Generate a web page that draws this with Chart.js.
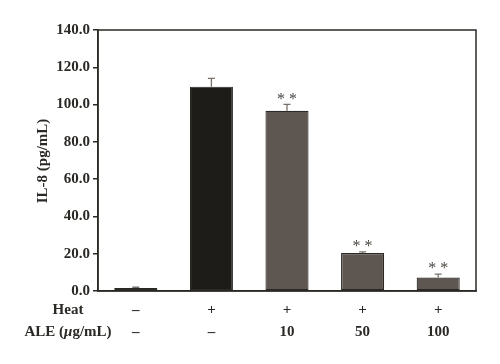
<!DOCTYPE html>
<html>
<head>
<meta charset="utf-8">
<script src="https://cdn.jsdelivr.net/npm/chart.js@4.4.1/dist/chart.umd.min.js"></script>
<style>
  html, body { margin: 0; padding: 0; background: #fff; }
  #wrap { width: 500px; height: 364px; }
</style>
</head>
<body>
<div id="wrap"><canvas id="myChart" width="500" height="364"></canvas></div>
<script>
// data
const heatRow = ['–', '+', '+', '+', '+'];
const aleRow = ['–', '–', '10', '50', '100'];
const il8Values = [1.6, 109.6, 96.7, 20.4, 7.2];
const il8Errors = [0.4, 4.5, 3.4, 0.6, 1.9];
const marks = ['', '', '**', '**', '**'];
const yTicks = [0, 20, 40, 60, 80, 100, 120, 140];

const serif = '"Liberation Serif", "DejaVu Serif", serif';
const ink = '#2b2925';

// error bars, asterisks, frame and row titles
const extras = {
  id: 'extras',
  afterDatasetsDraw(chart) {
    const ctx = chart.ctx;
    const y = chart.scales.y;
    const meta = chart.getDatasetMeta(0);
    const area = chart.chartArea;
    ctx.save();

    // box around the plot
    ctx.strokeStyle = ink;
    ctx.lineWidth = 1.5;
    ctx.strokeRect(area.left, area.top, area.right - area.left, area.bottom - area.top);

    meta.data.forEach((bar, i) => {
      const top = y.getPixelForValue(il8Values[i] + il8Errors[i]);
      ctx.strokeStyle = '#77716b';
      ctx.lineWidth = 1.3;
      ctx.beginPath();
      ctx.moveTo(bar.x, bar.y);
      ctx.lineTo(bar.x, top);
      ctx.moveTo(bar.x - 3.5, top);
      ctx.lineTo(bar.x + 3.5, top);
      ctx.stroke();

      if (marks[i]) {
        ctx.fillStyle = '#4a4540';
        ctx.font = '16px ' + serif;
        ctx.textAlign = 'center';
        ctx.textBaseline = 'middle';
        ctx.fillText('* *', bar.x, top - 5);
      }
    });

    // y title
    ctx.fillStyle = ink;
    ctx.font = 'bold 15px ' + serif;
    ctx.translate(43, 161);
    ctx.rotate(-Math.PI / 2);
    ctx.textAlign = 'center';
    ctx.textBaseline = 'middle';
    ctx.fillText('IL-8 (pg/mL)', 0, 0);
    ctx.restore();

    // row titles under the axis
    ctx.save();
    ctx.fillStyle = ink;
    ctx.textBaseline = 'middle';
    ctx.textAlign = 'center';
    ctx.font = 'bold 15px ' + serif;
    ctx.fillText('Heat', 68, 310);

    const parts = [['ALE (', 'bold 15px '], ['μ', 'italic bold 15px '], ['g/mL)', 'bold 15px ']];
    let total = 0;
    parts.forEach(p => { ctx.font = p[1] + serif; total += ctx.measureText(p[0]).width; });
    let x = 68 - total / 2;
    ctx.textAlign = 'left';
    parts.forEach(p => {
      ctx.font = p[1] + serif;
      ctx.fillText(p[0], x, 332);
      x += ctx.measureText(p[0]).width;
    });
    ctx.restore();
  }
};

const labels = heatRow.map((h, i) => [h, aleRow[i]]);

let myBarChart = new Chart(document.getElementById('myChart'), {
  type: 'bar',
  data: {
    labels: labels,
    datasets: [{
      data: il8Values,
      backgroundColor: ['#ffffff', '#1e1c18', '#5e5650', '#5e5650', '#5e5650'],
      borderColor: '#2b2925',
      borderWidth: 1.2,
      borderSkipped: false,
      barPercentage: 0.57,
      categoryPercentage: 1.0
    }]
  },
  options: {
    responsive: false,
    animation: false,
    devicePixelRatio: 1,
    layout: { padding: { left: 0, right: 24, top: 30, bottom: 0 } },
    plugins: {
      legend: { display: false },
      tooltip: { enabled: false },
      title: { display: false }
    },
    scales: {
      x: {
        grid: { display: false },
        border: { display: true, color: ink, width: 1.5 },
        afterFit: (axis) => { axis.height = 73; },
        ticks: {
          color: ink,
          padding: 0,
          maxRotation: 0,
          font: { family: serif, size: 15, weight: 'bold', lineHeight: 1.45 }
        }
      },
      y: {
        min: 0,
        max: 140,
        afterBuildTicks: (axis) => { axis.ticks = yTicks.map(v => ({ value: v })); },
        afterFit: (axis) => { axis.width = 98; },
        grid: { drawOnChartArea: false, drawTicks: true, tickLength: 5, color: ink, lineWidth: 1.5 },
        border: { display: true, color: ink, width: 1.5 },
        ticks: {
          color: ink,
          padding: 3,
          font: { family: serif, size: 15, weight: 'bold' },
          callback: (v) => Number(v).toFixed(1)
        }
      }
    }
  },
  plugins: [extras]
});
</script>
</body>
</html>
